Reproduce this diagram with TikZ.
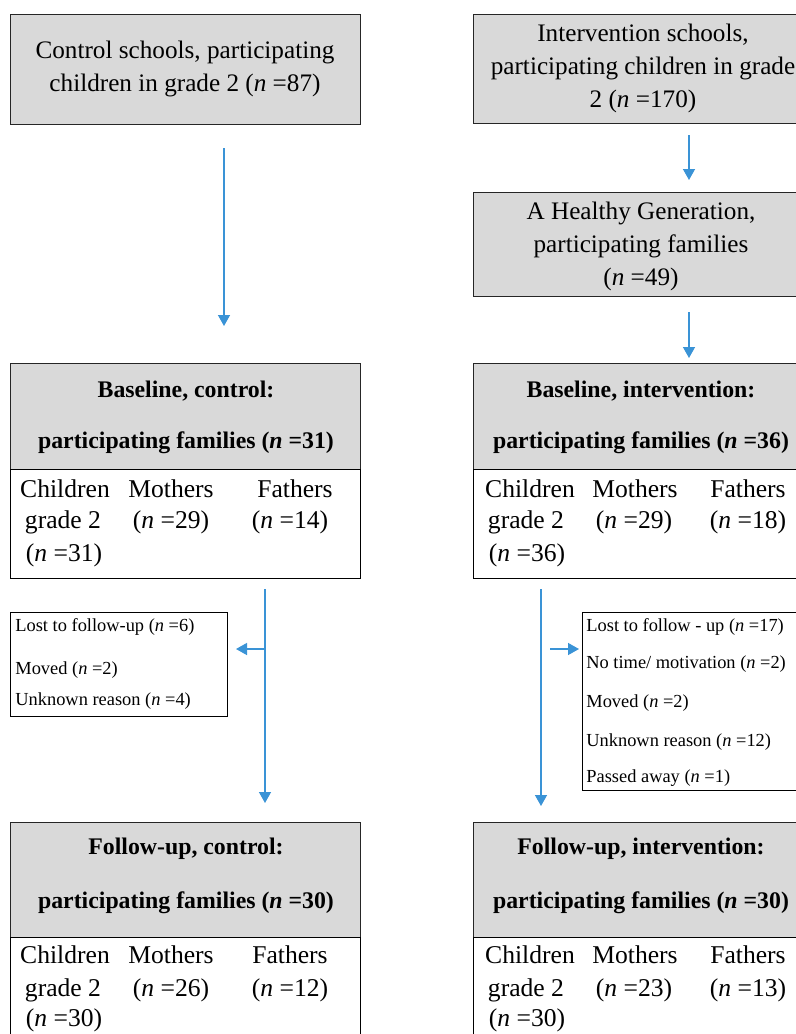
\documentclass[tikz,border=0pt]{standalone}
\usepackage{fontspec}
\setmainfont{Liberation Serif}
\usetikzlibrary{arrows.meta}
\definecolor{boxgray}{HTML}{D9D9D9}
\definecolor{arrblue}{HTML}{3A93D6}
\begin{document}
\begin{tikzpicture}[x=0.5pt,y=-0.5pt,
  gbox/.style={draw=black!85, line width=0.6pt, fill=boxgray, inner sep=0pt, anchor=north west},
  wbox/.style={draw=black, line width=0.6pt, fill=white, inner sep=0pt, anchor=north west},
  txt/.style={font=\fontsize{12.6}{16.5}\selectfont, align=center, inner sep=0pt},
  btxt/.style={font=\fontsize{11.9}{16.5}\selectfont\bfseries, inner sep=0pt},
  ttxt/.style={font=\fontsize{12.8}{16.5}\selectfont, inner sep=0pt},
  stxt/.style={font=\fontsize{9.2}{10}\selectfont, inner sep=0pt, anchor=west},
  arr/.style={draw=arrblue, line width=0.7pt, -{Triangle[width=6pt,length=5.5pt]}}
]
\useasboundingbox (0,0) rectangle (796,1034);
\clip (0,0) rectangle (796,1034);

% ---------- top boxes ----------
\node[gbox, minimum width=175pt, minimum height=55pt] (ctrl) at (10,14) {};
\node[txt] (ctrlt) at (185,69) {Control schools, participating\\children in grade 2 (\textit{n} =87)};

\node[gbox, minimum width=170pt, minimum height=54.5pt] (intv) at (473,14) {};
\node[txt] (intvt) at (643,68) {Intervention schools,\\participating children in grade\\2 (\textit{n} =170)};

\node[gbox, minimum width=170pt, minimum height=52pt] (ahg) at (473,192) {};
\node[txt] (ahgt) at (641,246) {A Healthy Generation,\\participating families\\(\textit{n} =49)};

% ---------- baseline boxes ----------
\node[gbox, minimum width=175pt, minimum height=53pt] (bch) at (10,363) {};
\node[wbox, minimum width=175pt, minimum height=54.5pt] (bct) at (10,469) {};
\node[btxt] at (186,391) {Baseline, control:};
\node[btxt] at (186,443) {participating families (\textit{n} =31)};
\node[ttxt] at (65,489) {Children};
\node[ttxt] at (63,522) {grade 2};
\node[ttxt] at (64,555) {(\textit{n} =31)};
\node[ttxt] at (171,489) {Mothers};
\node[ttxt] at (171,522) {(\textit{n} =29)};
\node[ttxt] at (295,489) {Fathers};
\node[ttxt] at (290,522) {(\textit{n} =14)};

\node[gbox, minimum width=170pt, minimum height=53pt] (bih) at (473,363) {};
\node[wbox, minimum width=170pt, minimum height=54.5pt] (bit) at (473,469) {};
\node[btxt] at (641,391) {Baseline, intervention:};
\node[btxt] at (641,443) {participating families (\textit{n} =36)};
\node[ttxt] at (530,489) {Children};
\node[ttxt] at (526,522) {grade 2};
\node[ttxt] at (527,555) {(\textit{n} =36)};
\node[ttxt] at (635,489) {Mothers};
\node[ttxt] at (634,522) {(\textit{n} =29)};
\node[ttxt] at (748,489) {Fathers};
\node[ttxt] at (748,522) {(\textit{n} =18)};

% ---------- lost to follow-up ----------
\node[wbox, minimum width=108.5pt, minimum height=52pt] (lostc) at (10,612) {};
\node[stxt] at (15,627) {Lost to follow-up (\textit{n} =6)};
\node[stxt] at (15,670) {Moved (\textit{n} =2)};
\node[stxt] at (15,701) {Unknown reason (\textit{n} =4)};

\node[wbox, minimum width=110pt, minimum height=89pt] (losti) at (582,612) {};
\node[stxt] at (586,627) {Lost to follow - up (\textit{n} =17)};
\node[stxt] at (586,664) {No time/ motivation (\textit{n} =2)};
\node[stxt] at (586,703) {Moved (\textit{n} =2)};
\node[stxt] at (586,742) {Unknown reason (\textit{n} =12)};
\node[stxt] at (586,778) {Passed away (\textit{n} =1)};

% ---------- follow-up boxes ----------
\node[gbox, minimum width=175pt, minimum height=57.5pt] (fch) at (10,822) {};
\node[wbox, minimum width=175pt, minimum height=60pt] (fct) at (10,937) {};
\node[btxt] at (186,849) {Follow-up, control:};
\node[btxt] at (186,903) {participating families (\textit{n} =30)};
\node[ttxt] at (65,955) {Children};
\node[ttxt] at (63,990) {grade 2};
\node[ttxt] at (64,1020) {(\textit{n} =30)};
\node[ttxt] at (171,955) {Mothers};
\node[ttxt] at (171,990) {(\textit{n} =26)};
\node[ttxt] at (290,955) {Fathers};
\node[ttxt] at (290,990) {(\textit{n} =12)};

\node[gbox, minimum width=170pt, minimum height=57.5pt] (fih) at (473,822) {};
\node[wbox, minimum width=170pt, minimum height=60pt] (fit) at (473,937) {};
\node[btxt] at (641,849) {Follow-up, intervention:};
\node[btxt] at (641,903) {participating families (\textit{n} =30)};
\node[ttxt] at (530,955) {Children};
\node[ttxt] at (526,990) {grade 2};
\node[ttxt] at (527,1020) {(\textit{n} =30)};
\node[ttxt] at (635,955) {Mothers};
\node[ttxt] at (634,990) {(\textit{n} =23)};
\node[ttxt] at (748,955) {Fathers};
\node[ttxt] at (748,990) {(\textit{n} =13)};

% ---------- arrows ----------
\coordinate (a1s) at (224,148); \coordinate (a1e) at (224,326);
\coordinate (a2s) at (689,135); \coordinate (a2e) at (689,180);
\coordinate (a3s) at (689,312); \coordinate (a3e) at (689,358);
\coordinate (a4s) at (265,589); \coordinate (a4e) at (265,803);
\coordinate (a4m) at (265,649); \coordinate (a4t) at (236,649);
\coordinate (a5s) at (541,589); \coordinate (a5e) at (541,806);
\coordinate (a5m) at (550,649); \coordinate (a5t) at (579,649);
\draw[arr] (a1s) -- (a1e);
\draw[arr] (a2s) -- (a2e);
\draw[arr] (a3s) -- (a3e);
\draw[arr] (a4s) -- (a4e);
\draw[arr] (a4m) -- (a4t);
\draw[arr] (a5s) -- (a5e);
\draw[arr] (a5m) -- (a5t);
\end{tikzpicture}
\end{document}
